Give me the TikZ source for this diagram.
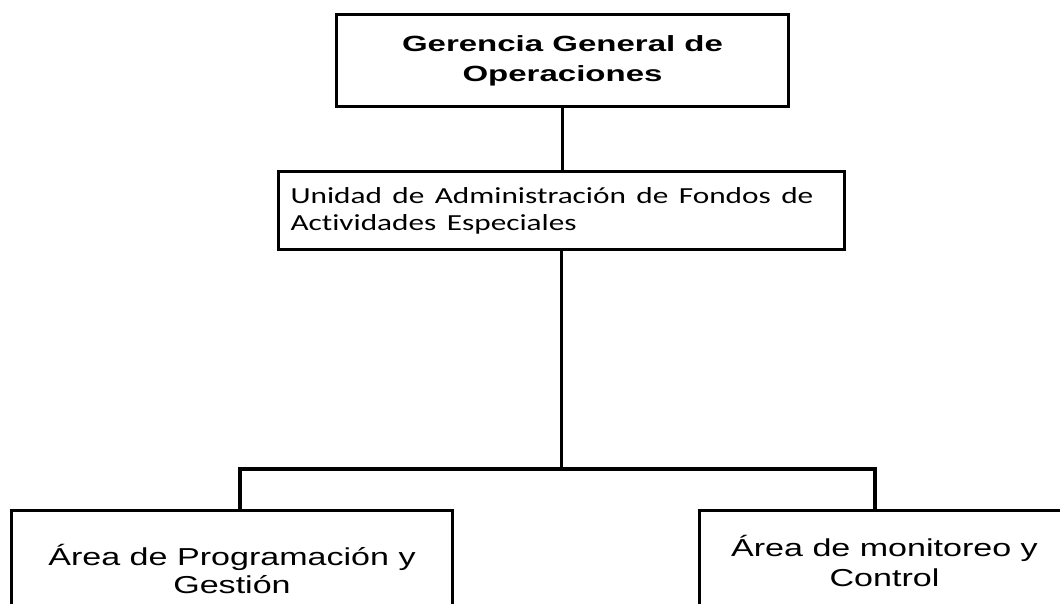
\documentclass[tikz,border=0pt]{standalone}
\usepackage{fontspec}
\setmainfont{Liberation Sans}
\newfontfamily\calfont[Ligatures=NoCommon]{Carlito}
\newcommand\sxa[1]{\scalebox{1.5}[1]{#1}}
\newcommand\sxb[1]{\scalebox{1.36}[1]{#1}}
\newcommand\sxc[1]{\scalebox{1.39}[1]{#1}}
\begin{document}
\begin{tikzpicture}[x=1pt,y=-1pt,
  box/.style={draw=black, line width=3pt, rectangle, inner sep=0pt, anchor=north west},
  conn/.style={draw=black, line width=3.5pt}]
\useasboundingbox (0,0) rectangle (1060,604);
\clip (0,0) rectangle (1060,604);
\fill[white] (0,0) rectangle (1060,604);
\node[box, minimum width=452pt, minimum height=92pt, align=center,
  font=\fontsize{22}{30}\selectfont\bfseries] (gg) at (335,13)
  {\sxa{Gerencia General de}\\\sxa{Operaciones}};
\node[box, minimum width=566pt, minimum height=78pt, text width=542pt, align=left,
  font=\calfont\fontsize{23}{27}\selectfont] (ua) at (277,170)
  {\sxb{Unidad de Administración de Fondos de}\\\sxb{Actividades Especiales}};
\node[box, minimum width=441pt, minimum height=116pt, align=center,
  font=\fontsize{24.5}{28}\selectfont] (pg) at (10,509)
  {\sxc{Área de Programación y}\\\sxc{Gestión}};
\node[box, minimum width=370pt, minimum height=100pt, align=center,
  font=\fontsize{24.5}{30}\selectfont] (mc) at (698,509)
  {\sxc{Área de monitoreo y}\\\sxc{Control}};
\coordinate (jl) at (240,469);
\coordinate (jr) at (875,469);
\draw[conn] (gg.south) -- (gg.south |- ua.north);
\draw[conn] (ua.south) -- (ua.south |- jl);
\draw[conn] (pg.north -| jl) -- (jl) -- (jr) -- (mc.north -| jr);
\end{tikzpicture}
\end{document}
